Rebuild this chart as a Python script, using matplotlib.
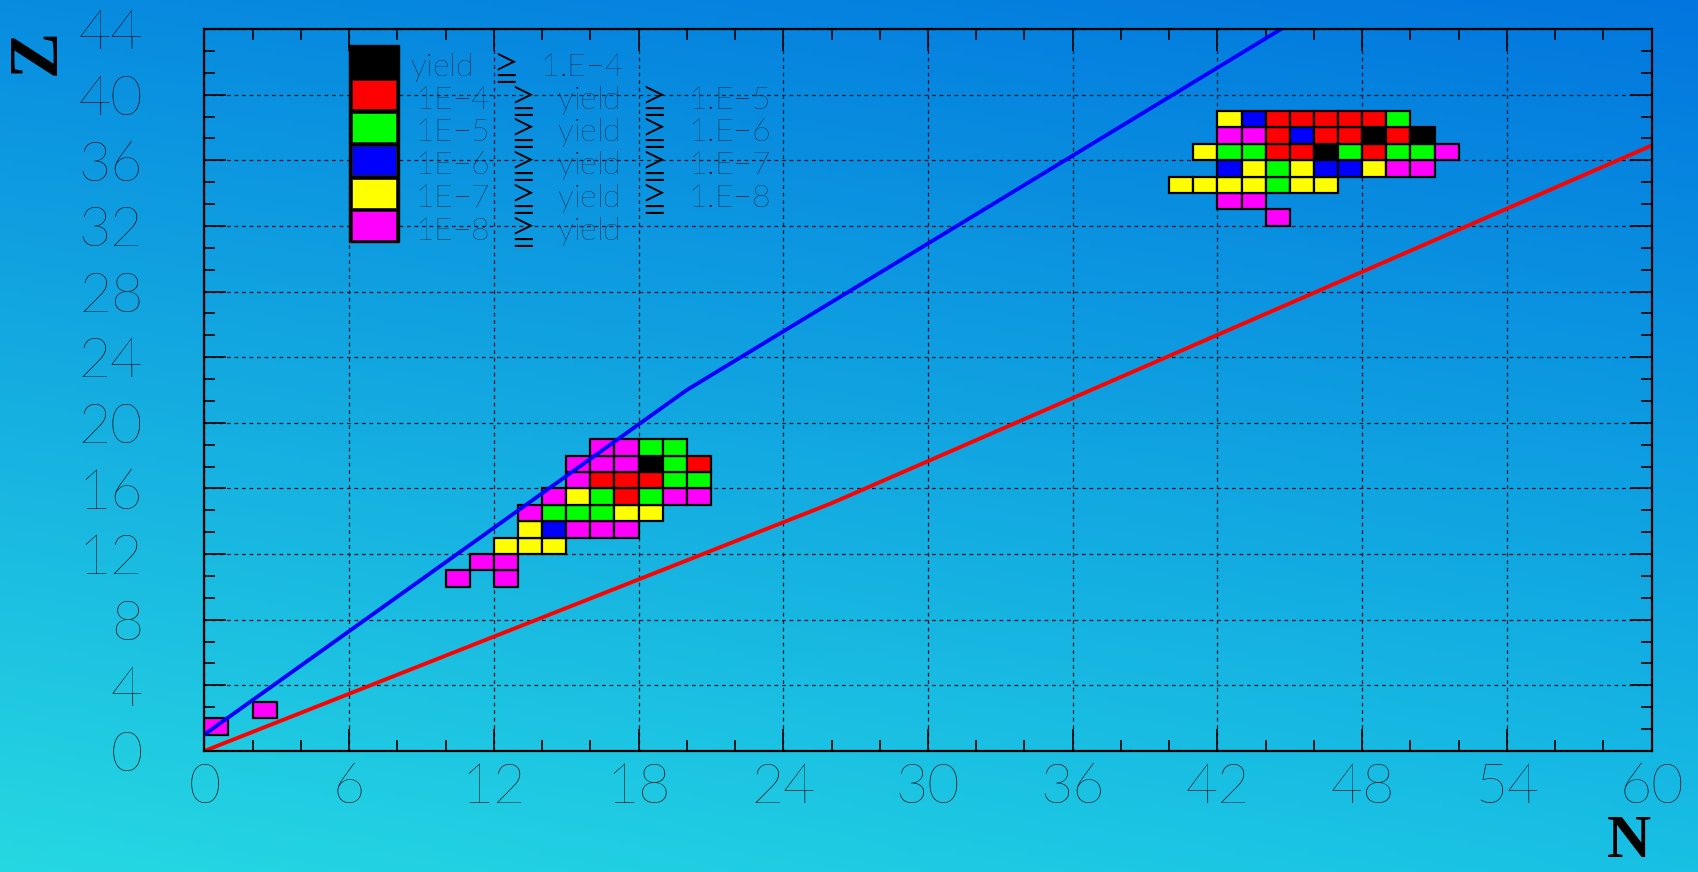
import numpy as np
import matplotlib
matplotlib.use("Agg")
import matplotlib.pyplot as plt
from matplotlib.patches import Rectangle
from matplotlib.ticker import MultipleLocator, AutoMinorLocator

plt.rcParams["mathtext.fontset"] = "stixsans"

# yield classes: 0 black ... 5 magenta
LEVEL_COLORS = ["#000000", "#ff0000", "#00ff00", "#0000ff", "#ffff00", "#ff00ff"]
GEQ = r"$\geqq$"
LEVEL_LABELS = [
    f"yield  {GEQ}  1.E\u22124",
    f"1E\u22124  {GEQ}  yield  {GEQ}  1.E\u22125",
    f"1E\u22125  {GEQ}  yield  {GEQ}  1.E\u22126",
    f"1E\u22126  {GEQ}  yield  {GEQ}  1.E\u22127",
    f"1E\u22127  {GEQ}  yield  {GEQ}  1.E\u22128",
    f"1E\u22128  {GEQ}  yield",
]
FONTS = ["Lato", "DejaVu Sans"]

# cells: neutron number, proton number, yield class
cell_n = [0, 2,
          10, 12,
          11, 12,
          12, 13, 14,
          13, 14, 15, 16, 17,
          13, 14, 15, 16, 17, 18,
          14, 15, 16, 17, 18, 19, 20,
          15, 16, 17, 18, 19, 20,
          15, 16, 17, 18, 19, 20,
          16, 17, 18, 19,
          44,
          42, 43,
          40, 41, 42, 43, 44, 45, 46,
          42, 43, 44, 45, 46, 47, 48, 49, 50,
          41, 42, 43, 44, 45, 46, 47, 48, 49, 50, 51,
          42, 43, 44, 45, 46, 47, 48, 49, 50,
          42, 43, 44, 45, 46, 47, 48, 49]
cell_z = [1, 2,
          10, 10,
          11, 11,
          12, 12, 12,
          13, 13, 13, 13, 13,
          14, 14, 14, 14, 14, 14,
          15, 15, 15, 15, 15, 15, 15,
          16, 16, 16, 16, 16, 16,
          17, 17, 17, 17, 17, 17,
          18, 18, 18, 18,
          32,
          33, 33,
          34, 34, 34, 34, 34, 34, 34,
          35, 35, 35, 35, 35, 35, 35, 35, 35,
          36, 36, 36, 36, 36, 36, 36, 36, 36, 36, 36,
          37, 37, 37, 37, 37, 37, 37, 37, 37,
          38, 38, 38, 38, 38, 38, 38, 38]
cell_level = [5, 5,
              5, 5,
              5, 5,
              4, 4, 4,
              4, 3, 5, 5, 5,
              5, 2, 2, 2, 4, 4,
              5, 4, 2, 1, 2, 5, 5,
              5, 1, 1, 1, 2, 2,
              5, 5, 5, 0, 2, 1,
              5, 5, 2, 2,
              5,
              5, 5,
              4, 4, 4, 4, 2, 4, 4,
              3, 4, 2, 4, 3, 3, 4, 5, 5,
              4, 2, 2, 1, 1, 0, 2, 1, 2, 2, 5,
              5, 5, 1, 3, 1, 1, 0, 1, 0,
              4, 3, 1, 1, 1, 1, 1, 2]

# boundary lines
blue_n = [0, 20, 44.64]
blue_z = [1, 22, 44]
red_n = [0, 26, 60]
red_z = [0, 15.1, 36.9]

W, H = 1698, 872
fig = plt.figure(figsize=(W / 100, H / 100), dpi=100)

# background gradient
bg = fig.add_axes([0, 0, 1, 1], zorder=-10)
tl = np.array([8, 140, 224]); tr = np.array([2, 118, 222])
bl = np.array([38, 216, 226]); br = np.array([24, 192, 228])
yy, xx = np.mgrid[0:1:200j, 0:1:400j]
img = (tl[None, None] * ((1 - yy) * (1 - xx))[..., None] + tr[None, None] * ((1 - yy) * xx)[..., None]
       + bl[None, None] * (yy * (1 - xx))[..., None] + br[None, None] * (yy * xx)[..., None]) / 255.0
bg.imshow(img, aspect="auto", extent=[0, 1, 0, 1], origin="upper")
bg.axis("off")

ax = fig.add_axes([204.3 / W, 1 - 751 / H, (1651.7 - 204.3) / W, (751 - 29) / H])
ax.set_facecolor("none")
ax.set_xlim(0, 60)
ax.set_ylim(0, 44)

ax.xaxis.set_major_locator(MultipleLocator(6))
ax.yaxis.set_major_locator(MultipleLocator(4))
ax.xaxis.set_minor_locator(AutoMinorLocator(3))
ax.yaxis.set_minor_locator(AutoMinorLocator(3))
ax.tick_params(which="both", direction="in", top=True, right=True, color="black", width=1.2)
ax.tick_params(which="major", length=16)
ax.tick_params(which="minor", length=8)
ax.tick_params(axis="y", pad=44)
ax.tick_params(axis="x", pad=8)
for lab in ax.get_xticklabels() + ax.get_yticklabels():
    lab.set_family(FONTS)
    lab.set_fontweight("light")
    lab.set_fontsize(40)
    lab.set_color("black")
for s in ax.spines.values():
    s.set_linewidth(1.6)
    s.set_zorder(6)

ax.set_axisbelow(False)
ax.grid(True, which="major", color="#0a1a28", linestyle=(0, (3, 3)), linewidth=0.9)

# cells
for n, z, lv in zip(cell_n, cell_z, cell_level):
    ax.add_patch(Rectangle((n, z), 1, 1, facecolor=LEVEL_COLORS[lv], edgecolor="black",
                           linewidth=1.6, zorder=3))

# lines
ax.plot(blue_n, blue_z, color="#0000ff", linewidth=2.8, zorder=4)
ax.plot(red_n, red_z, color="#ff0000", linewidth=2.8, zorder=4)

# legend
ax.add_patch(Rectangle((6, 31), 2.07, 12.05, facecolor="black", edgecolor="black", linewidth=1, zorder=3))
for i, (c, t) in enumerate(zip(LEVEL_COLORS, LEVEL_LABELS)):
    z0 = 41 - 2 * i
    if i > 0:
        ax.add_patch(Rectangle((6.11, z0 + 0.12), 1.85, 1.76, facecolor=c,
                               edgecolor="#202020", linewidth=0.6, zorder=3.5))
    x0 = 8.52 if i == 0 else 8.72
    ax.text(x0, z0 + 0.15, t, fontsize=23, family=FONTS, fontweight="light",
            color="black", va="baseline", ha="left", zorder=2)

# axis titles
fig.text(37.5 / W, 1 - 29 / H, "Z", rotation=90, ha="center", va="top",
         family="Liberation Serif", fontweight="bold", fontsize=50)
fig.text(1651 / W, 1 - 857 / H, "N", ha="right", va="baseline",
         family="Liberation Serif", fontweight="bold", fontsize=44)

fig.savefig("out.png", dpi=100)
